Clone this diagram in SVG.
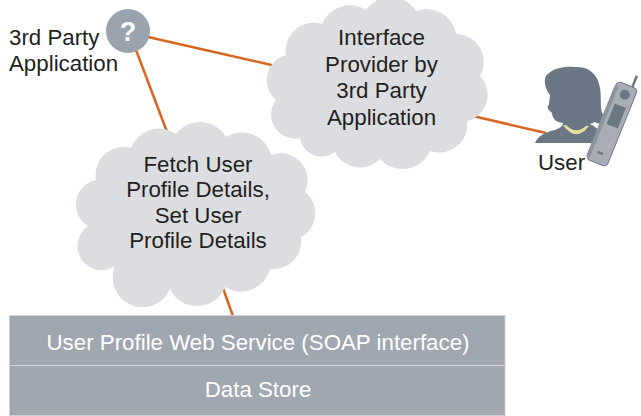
<svg xmlns="http://www.w3.org/2000/svg" width="641" height="416" viewBox="0 0 641 416">
  <style>
    .lbl { font-family: "Liberation Sans", Arial, sans-serif; font-size: 22.3px; fill: #231f20; }
    .mid { text-anchor: middle; }
    .inv { fill: #ffffff; }
    .cloud { fill: #dcdde1; }
    .link { stroke: #d9661f; stroke-width: 2.5; fill: none; }
    .slate { fill: #6c7785; }
  </style>

  <!-- connectors (drawn first so nodes sit on top) -->
  <g id="connectors">
    <line class="link" x1="148" y1="37" x2="280" y2="67"/>
    <line class="link" x1="136" y1="50" x2="172" y2="145"/>
    <line class="link" x1="460" y1="113" x2="546" y2="133"/>
    <line class="link" x1="220" y1="280" x2="233" y2="316"/>
  </g>

  <!-- third-party application -->
  <g id="third-party-app">
    <circle cx="128" cy="31" r="22" fill="#9aa2ad"/>
    <text class="lbl mid inv" x="128" y="41" style="font-weight:bold;font-size:27px">?</text>
    <text class="lbl" x="9" y="45">3rd Party</text>
    <text class="lbl" x="9" y="71">Application</text>
  </g>

  <!-- interface cloud -->
  <g id="interface-cloud">
    <path class="cloud" d="M300,138 A24,24 0 0 1 276,100 A26,26 0 0 1 286,55 A28,28 0 0 1 322,24 A30,30 0 0 1 366,10 A30,30 0 0 1 416,11 A30,30 0 0 1 456,34 A28,28 0 0 1 480,76 A27,27 0 0 1 467,121 A28,28 0 0 1 430,151 A30,30 0 0 1 380,159 A28,28 0 0 1 335,152 A22,22 0 0 1 300,138 Z"/>
    <text class="lbl mid" x="381.5" y="45">Interface</text>
    <text class="lbl mid" x="381.5" y="71.5">Provider by</text>
    <text class="lbl mid" x="381.5" y="98">3rd Party</text>
    <text class="lbl mid" x="381.5" y="124.5">Application</text>
  </g>

  <!-- profile operations cloud -->
  <g id="profile-cloud">
    <path class="cloud" d="M115,266 A24,24 0 0 1 88,226 A25,25 0 0 1 96,180 A28,28 0 0 1 131,148 A30,30 0 0 1 176,134 A30,30 0 0 1 226,137 A30,30 0 0 1 271,155 A27,27 0 0 1 305,192 A27,27 0 0 1 301,237 A28,28 0 0 1 270,269 A30,30 0 0 1 225,287 A30,30 0 0 1 170,289 A28,28 0 0 1 115,266 Z"/>
    <text class="lbl mid" x="198" y="171.5">Fetch User</text>
    <text class="lbl mid" x="198" y="197">Profile Details,</text>
    <text class="lbl mid" x="198" y="222.5">Set User</text>
    <text class="lbl mid" x="198" y="248">Profile Details</text>
  </g>

  <!-- user with handset -->
  <g id="user">
    <path class="slate" d="M555,120 C553,118 552,115 552,113 L549,110 C547,108 547,106 549,105 C549,101 550,98 550,95 C546,90 543,82 546,76 C552,68 565,66 575,67 C590,66 598,75 600,88 C602,100 599,110 604,116 C606,119 610,120 608,122 C603,124 598,124 595,122 L590,124 C598,128 603,133 605,143 L535,143 C538,136 545,132 555,130 C560,128 563,126 563,123 C560,122 557,122 555,120 Z"/>
    <path d="M563,125 Q576,143 589,126 L586,126 Q576,135 566,125 Z" fill="#e4df9f"/>
    <g transform="translate(612,124) rotate(22)">
      <line x1="5" y1="-41" x2="5" y2="-54" stroke="#6c7785" stroke-width="2.5"/>
      <rect x="-11" y="-42" width="22" height="84" rx="4" fill="#a9aeb6" stroke="#6c7785" stroke-width="1"/>
      <rect x="-12" y="-38" width="4" height="78" rx="2" fill="#8d939c"/>
      <circle cx="1" cy="-32" r="5" fill="#6c7785"/>
      <rect x="-5" y="-20" width="12" height="22" fill="#6c7785"/>
      <rect x="-3" y="30" width="6" height="2.5" rx="1" fill="#6c7785"/>
    </g>
    <text class="lbl" x="538" y="170">User</text>
  </g>

  <!-- service stack -->
  <g id="web-service">
    <rect x="9.5" y="315.5" width="495.5" height="50" fill="#a1a7b1" stroke="#cfd2d7" stroke-width="1"/>
    <text class="lbl mid inv" x="258" y="350">User Profile Web Service (SOAP interface)</text>
  </g>
  <g id="data-store">
    <rect x="9.5" y="365.5" width="495.5" height="50" fill="#a1a7b1" stroke="#cfd2d7" stroke-width="1"/>
    <text class="lbl mid inv" x="258" y="397">Data Store</text>
  </g>
</svg>
